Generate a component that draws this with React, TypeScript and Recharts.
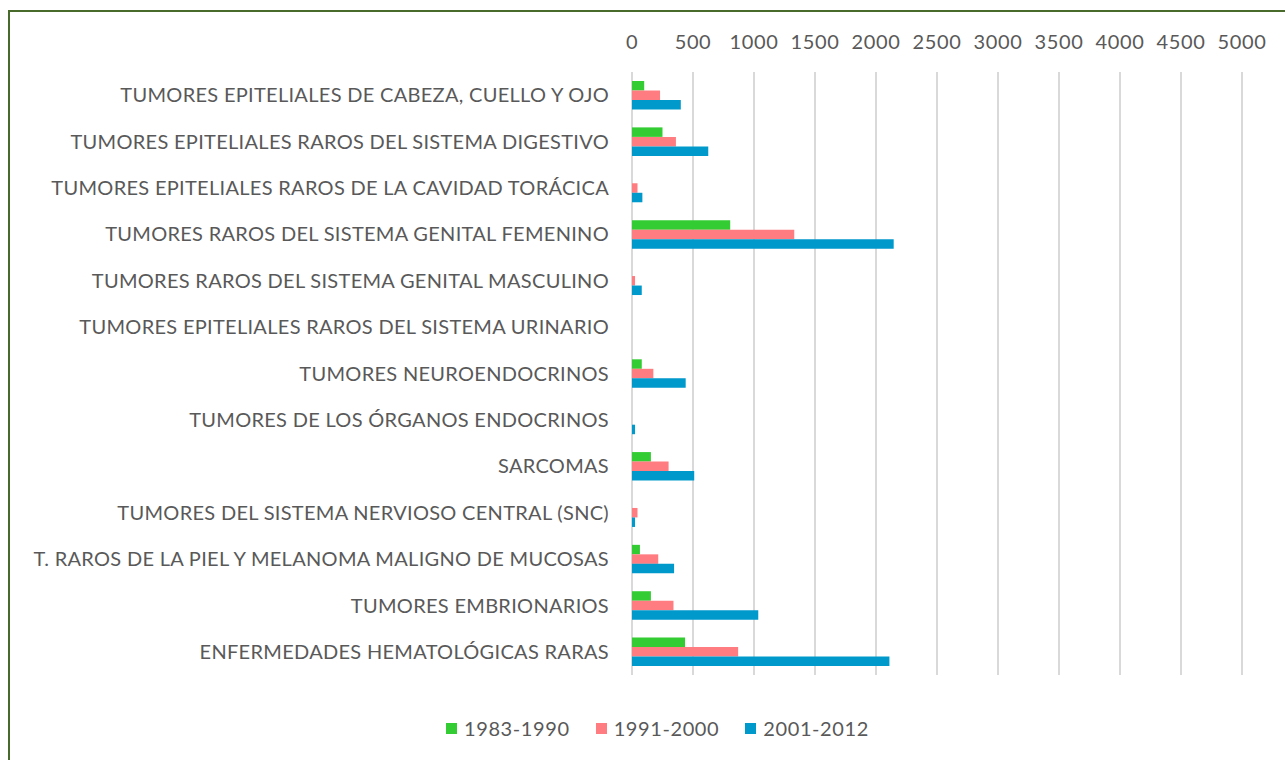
import React from 'react';
import { BarChart, Bar, XAxis, YAxis, CartesianGrid, Legend } from 'recharts';

const categories = [
  'TUMORES EPITELIALES DE CABEZA, CUELLO Y OJO',
  'TUMORES EPITELIALES RAROS DEL SISTEMA DIGESTIVO',
  'TUMORES EPITELIALES RAROS DE LA CAVIDAD TORÁCICA',
  'TUMORES RAROS DEL SISTEMA GENITAL FEMENINO',
  'TUMORES RAROS DEL SISTEMA GENITAL MASCULINO',
  'TUMORES EPITELIALES RAROS DEL SISTEMA URINARIO',
  'TUMORES NEUROENDOCRINOS',
  'TUMORES DE LOS ÓRGANOS ENDOCRINOS',
  'SARCOMAS',
  'TUMORES DEL SISTEMA NERVIOSO CENTRAL (SNC)',
  'T. RAROS DE LA PIEL Y MELANOMA MALIGNO DE MUCOSAS',
  'TUMORES EMBRIONARIOS',
  'ENFERMEDADES HEMATOLÓGICAS RARAS',
];

const p1983 = [100, 250, 0, 805, 0, 0, 80, 0, 155, 0, 65, 155, 435];
const p1991 = [230, 360, 45, 1330, 25, 0, 175, 0, 300, 45, 215, 340, 870];
const p2001 = [400, 625, 85, 2145, 80, 0, 440, 25, 510, 25, 345, 1035, 2110];

const xTicks = [0, 500, 1000, 1500, 2000, 2500, 3000, 3500, 4000, 4500, 5000];

const series = [
  { key: '1983-1990', values: p1983, color: '#33cc33' },
  { key: '1991-2000', values: p1991, color: '#ff7c80' },
  { key: '2001-2012', values: p2001, color: '#0099cc' },
];

const data = categories.map((name, i) => {
  const row: Record<string, string | number> = { name };
  series.forEach((s) => {
    row[s.key] = s.values[i];
  });
  return row;
});

const FONT = 'Lato, "Open Sans", sans-serif';

function LegendContent() {
  return (
    <div style={{ display: 'flex', alignItems: 'center', height: 30, fontFamily: FONT, fontSize: 20, letterSpacing: 0.6, color: '#595959' }}>
      {series.map((s) => (
        <div key={s.key} style={{ display: 'flex', alignItems: 'center', marginRight: 26 }}>
          <span style={{ width: 11, height: 11, background: s.color, display: 'inline-block', marginRight: 7 }} />
          <span>{s.key}</span>
        </div>
      ))}
    </div>
  );
}

export default function App() {
  return (
    <div style={{ position: 'fixed', left: 0, top: 0, width: 1285, height: 760, overflow: 'hidden', background: '#fff' }}>
      {/* green frame, only left and top edges fall inside the picture */}
      <div style={{ position: 'absolute', left: 8, top: 10, width: 1320, height: 800, border: '2px solid #486b2c' }} />
      <div style={{ position: 'absolute', left: 0, top: 0 }}>
        <BarChart
          width={1285}
          height={760}
          data={data}
          layout="vertical"
          margin={{ top: 42, right: 43, bottom: 55, left: 0 }}
          barSize={9.5}
          barGap={0}
        >
          <CartesianGrid horizontal={false} stroke="#d9d9d9" strokeWidth={2} />
          <XAxis
            type="number"
            orientation="top"
            domain={[0, 5000]}
            ticks={xTicks}
            axisLine={false}
            tickLine={false}
            tickSize={0}
            tickMargin={23}
            height={30}
            interval={0}
            tick={{ fontSize: 20, fill: '#595959', fontFamily: FONT, letterSpacing: 0.6 }}
          />
          <YAxis
            type="category"
            dataKey="name"
            width={632}
            axisLine={false}
            tickLine={false}
            tickSize={0}
            tickMargin={23}
            interval={0}
            tick={{ fontSize: 20, fill: '#595959', fontFamily: FONT, letterSpacing: 0.3 }}
          />
          <Legend
            verticalAlign="bottom"
            content={() => <LegendContent />}
            wrapperStyle={{ top: 713, left: 446, width: 'auto' }}
          />
          {series.map((s) => (
            <Bar key={s.key} dataKey={s.key} fill={s.color} isAnimationActive={false} />
          ))}
        </BarChart>
      </div>
    </div>
  );
}
